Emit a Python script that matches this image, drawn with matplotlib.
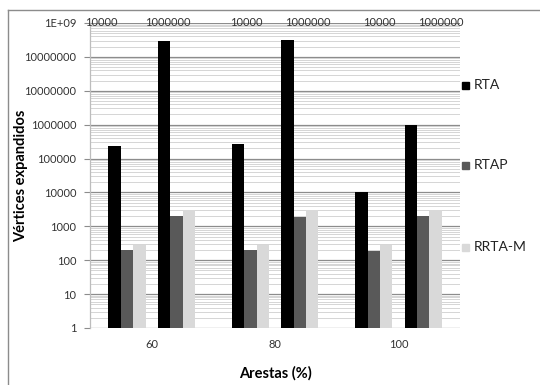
import numpy as np
import matplotlib
matplotlib.use("Agg")
import matplotlib.pyplot as plt
from matplotlib.lines import Line2D
from matplotlib.ticker import FixedLocator, LogLocator, NullFormatter

plt.rcParams['font.family'] = ['Lato', 'DejaVu Sans']

# Data
groups = ["60", "80", "100"]
subgroups = ["10000", "1000000"]
series = ["RTA", "RTAP", "RRTA-M"]
colors = ["#000000", "#595959", "#d9d9d9"]
# values[series][group][subgroup]
rta = [[240000, 300000000], [270000, 320000000], [10000, 1000000]]
rtap = [[200, 2000], [200, 1900], [190, 2000]]
rrtam = [[280, 3000], [280, 3000], [280, 3000]]
values = [rta, rtap, rrtam]

ytick_vals = [1, 10, 100, 1000, 10000, 100000, 1000000, 10000000, 100000000, 1000000000]
ytick_labels = ["1", "10", "100", "1000", "10000", "100000", "1000000",
                "10000000", "10000000", "1E+09"]

W, H = 540, 385
fig = plt.figure(figsize=(W / 100, H / 100), dpi=100)
ax = fig.add_axes([90 / W, (H - 328) / H, 370 / W, (328 - 23) / H])

bar_w = 0.1
sub_off = [-0.2, 0.2]
for s, (vals, col) in enumerate(zip(values, colors)):
    for g in range(len(groups)):
        for k in range(len(subgroups)):
            x = g + sub_off[k] + (s - 1) * bar_w
            ax.bar(x, vals[g][k], width=bar_w, bottom=1, color=col,
                   edgecolor='none', zorder=3)

ax.set_yscale('log')
ax.set_ylim(1, 1e9)
ax.set_xlim(-0.5, 2.5)

ax.yaxis.set_major_locator(FixedLocator(ytick_vals))
ax.set_yticklabels(ytick_labels)
ax.yaxis.set_minor_locator(LogLocator(base=10, subs=np.arange(2, 10), numticks=20))
ax.yaxis.set_minor_formatter(NullFormatter())
ax.tick_params(axis='y', which='major', length=4, color='#8c8c8c', width=0.8,
               labelsize=8, labelcolor='#333333', pad=6)
ax.tick_params(axis='y', which='minor', length=0)
ax.grid(axis='y', which='major', color='#8c8c8c', linewidth=0.9, zorder=0)
ax.grid(axis='y', which='minor', color='#cfcfcf', linewidth=0.6, zorder=0)

ax.set_xticks(range(len(groups)))
ax.set_xticklabels(groups)
ax.tick_params(axis='x', length=0, labelsize=8, labelcolor='#333333', pad=8)

for side in ['top', 'right', 'bottom']:
    ax.spines[side].set_visible(False)
ax.spines['left'].set_color('#bdbdbd')
ax.spines['left'].set_linewidth(0.9)

# subgroup labels along the top edge
top_label_x = [-0.54, -0.054, 0.635, 1.081, 1.713, 2.159]
for i, x in enumerate(top_label_x):
    ax.text(x, 1e9, subgroups[i % 2], ha='left', va='center', fontsize=8,
            color='#333333', clip_on=False, zorder=4)

ax.set_ylabel("Vértices expandidos", fontsize=10.5, fontweight='bold')
ax.yaxis.set_label_coords(-(90 - 28.5) / 370, 0.5)
ax.set_xlabel("Arestas (%)", fontsize=10.5, fontweight='bold')
ax.xaxis.set_label_coords(0.5, -(366 - 328) / 305)

# legend, one entry per row
legend_y = [85, 165, 247]
for name, col, py in zip(series, colors, legend_y):
    fig.patches.append(plt.Rectangle((462 / W, (H - py - 3.5) / H), 7 / W, 7 / H,
                                     transform=fig.transFigure, color=col))
    fig.text(474 / W, (H - py) / H, name, ha='left', va='center', fontsize=10,
             color='#222222')

# chart frame
fig.add_artist(Line2D([8 / W, 1], [(H - 10) / H] * 2, transform=fig.transFigure,
                      color='#8c8c8c', linewidth=1))
fig.add_artist(Line2D([8 / W] * 2, [0, (H - 10) / H], transform=fig.transFigure,
                      color='#8c8c8c', linewidth=1))

fig.savefig("out.png", dpi=100)
